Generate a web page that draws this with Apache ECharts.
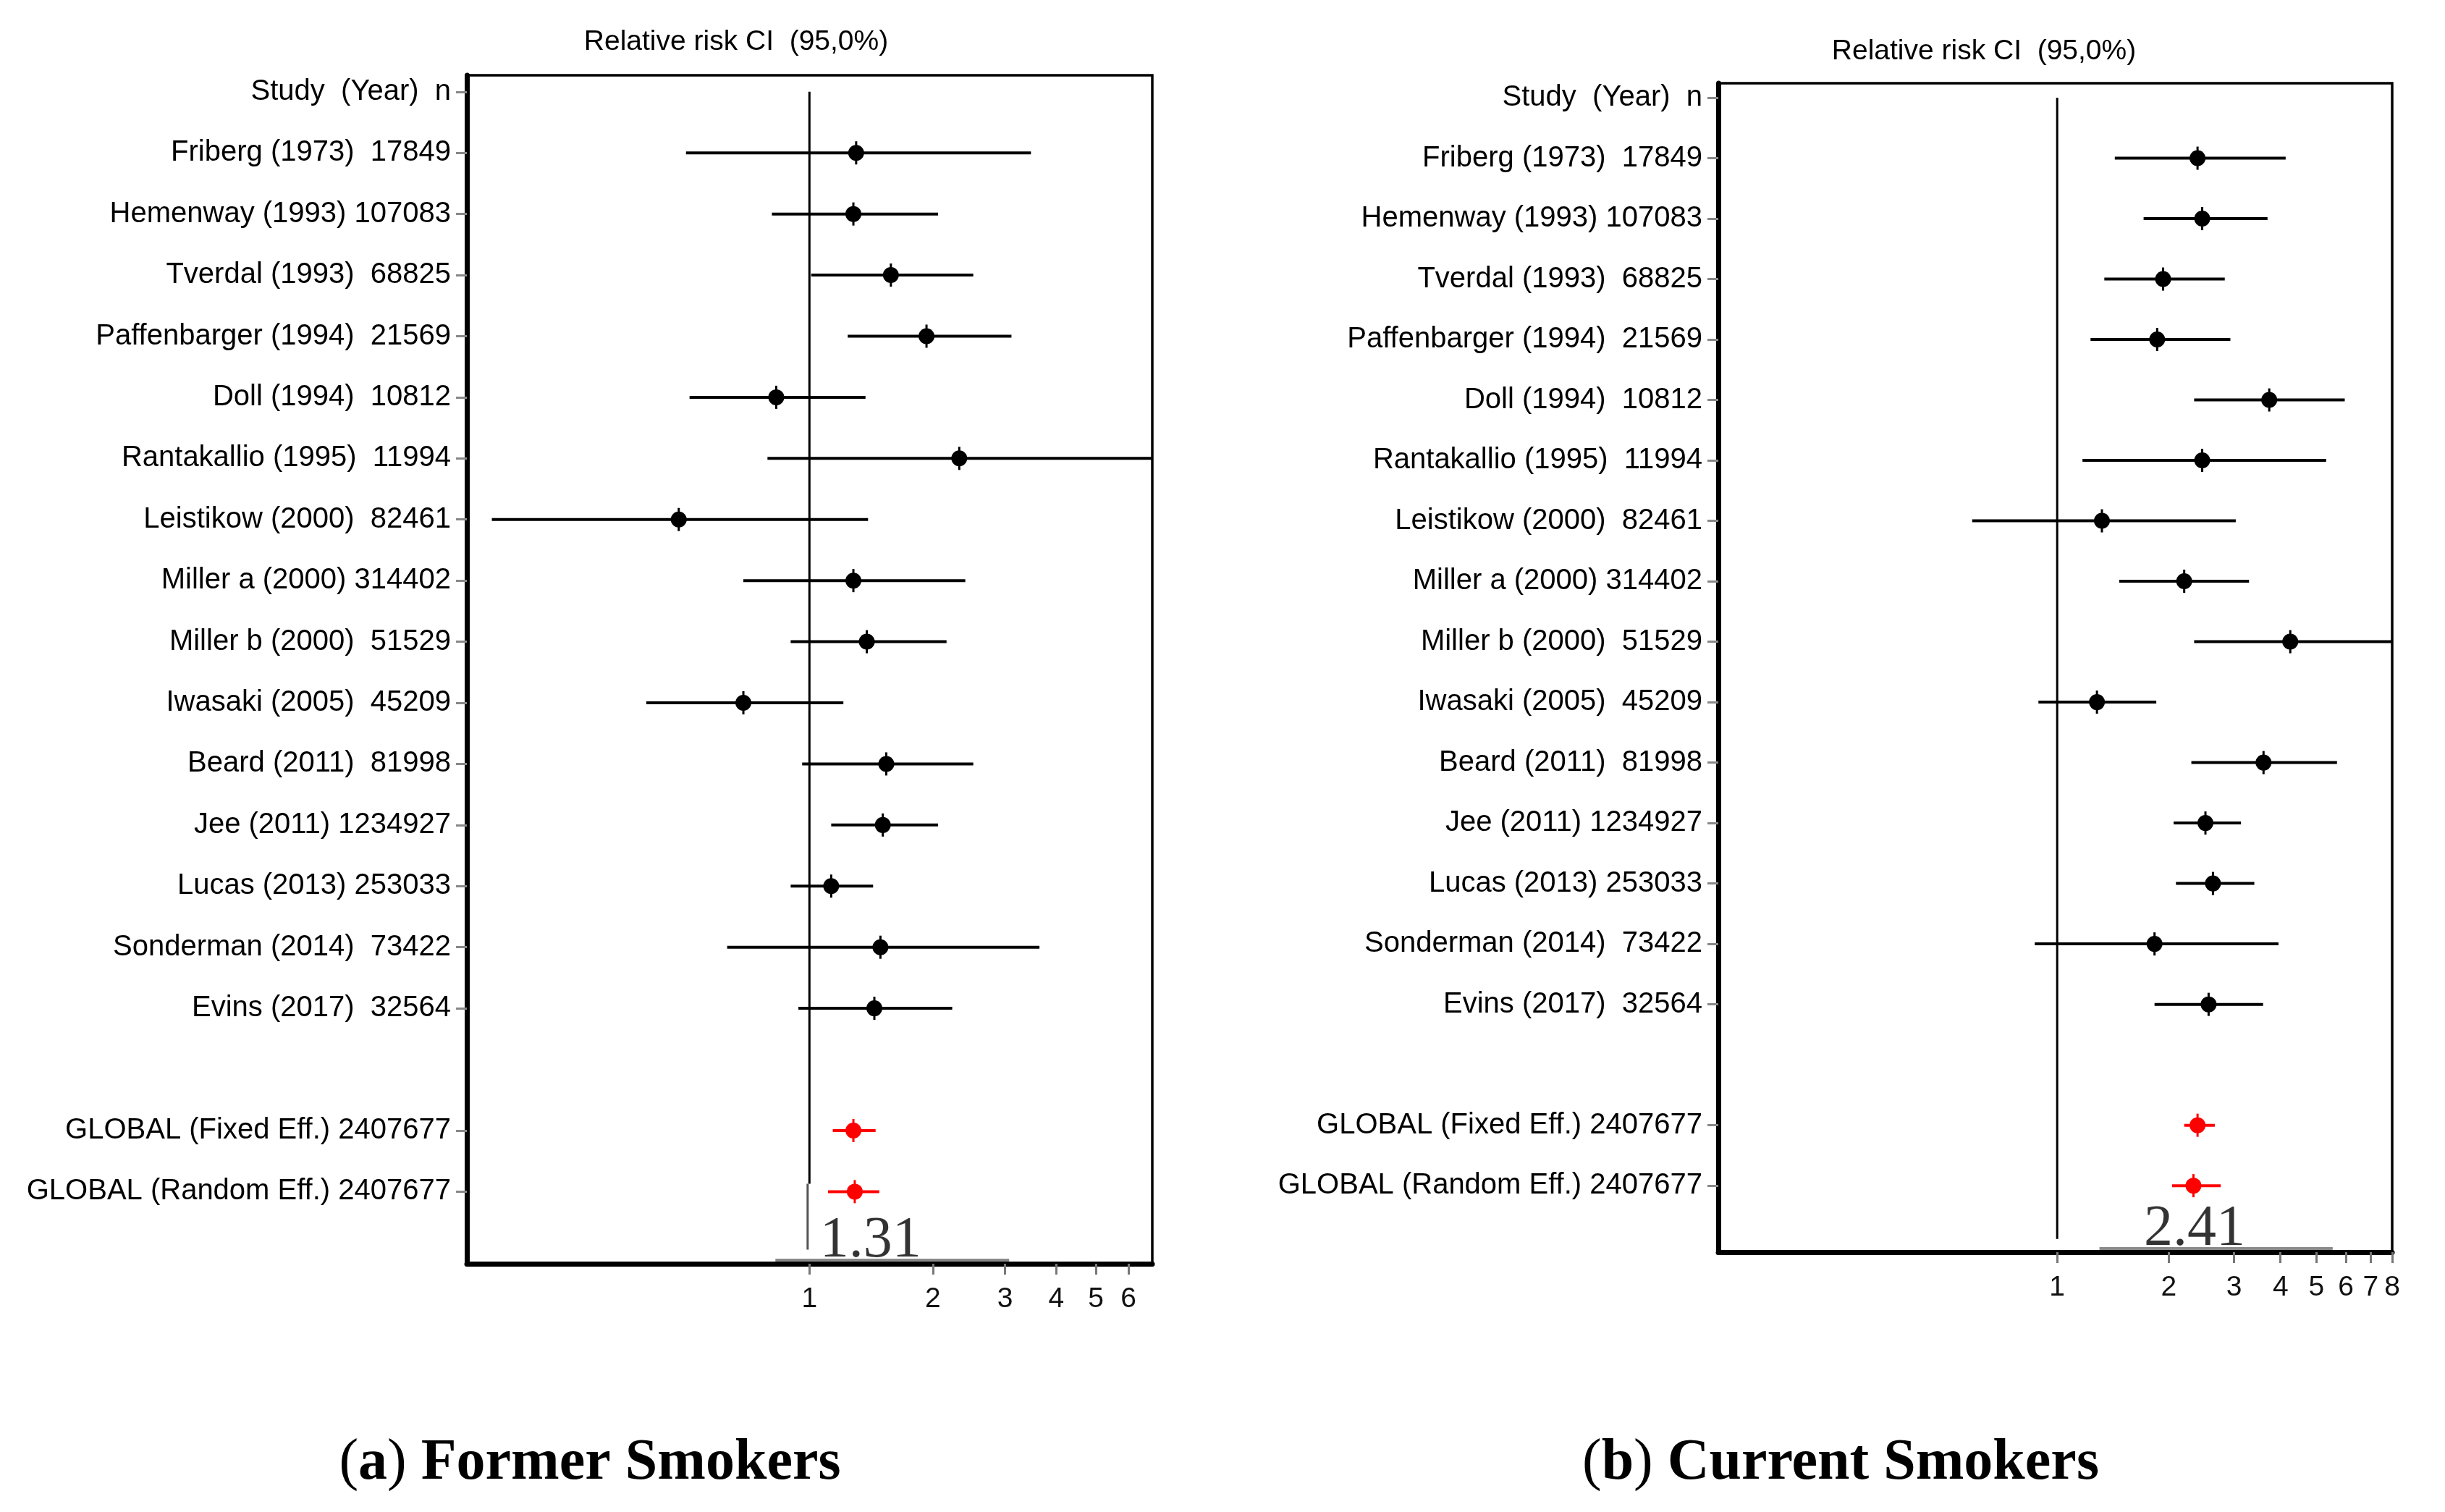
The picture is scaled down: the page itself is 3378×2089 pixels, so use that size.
<!DOCTYPE html>
<html lang="en">
<head>
  <meta charset="UTF-8">
  <title>Relative risk forest plots</title>
  <script src="https://cdn.jsdelivr.net/npm/echarts@6/dist/echarts.min.js"></script>
</head>
<body>
  <style>
    html, body, #chart {
      width: 100%;
      height: 100%;
      margin: 0;
      padding: 0;
      background: #fff;
    }
  </style>
  <div id="chart"></div>
  <script>
    // row labels, top to bottom (row 16 is the empty gap)
    const rowLabels = [
      'Study  (Year)  n',
      'Friberg (1973)  17849',
      'Hemenway (1993) 107083',
      'Tverdal (1993)  68825',
      'Paffenbarger (1994)  21569',
      'Doll (1994)  10812',
      'Rantakallio (1995)  11994',
      'Leistikow (2000)  82461',
      'Miller a (2000) 314402',
      'Miller b (2000)  51529',
      'Iwasaki (2005)  45209',
      'Beard (2011)  81998',
      'Jee (2011) 1234927',
      'Lucas (2013) 253033',
      'Sonderman (2014)  73422',
      'Evins (2017)  32564',
      '',
      'GLOBAL (Fixed Eff.) 2407677',
      'GLOBAL (Random Eff.) 2407677'
    ]
    const studyRows = [1, 2, 3, 4, 5, 6, 7, 8, 9, 10, 11, 12, 13, 14, 15]
    const globalRows = [17, 18]
    const tickRows = [0, 1, 2, 3, 4, 5, 6, 7, 8, 9, 10, 11, 12, 13, 14, 15, 17, 18]

    // (a) former smokers
    const formerRR = [1.30, 1.28, 1.58, 1.93, 0.83, 2.32, 0.48, 1.28, 1.38, 0.69, 1.54, 1.51, 1.13, 1.49, 1.44]
    const formerLo = [0.50, 0.81, 1.01, 1.24, 0.51, 0.79, 0.168, 0.69, 0.90, 0.40, 0.96, 1.13, 0.90, 0.63, 0.94]
    const formerHi = [3.47, 2.06, 2.51, 3.11, 1.37, 9.5, 1.39, 2.40, 2.16, 1.21, 2.51, 2.06, 1.43, 3.64, 2.23]
    const formerGlobalRR = [1.28, 1.29]
    const formerGlobalLo = [1.14, 1.11]
    const formerGlobalHi = [1.45, 1.48]
    const formerTicks = [1, 2, 3, 4, 5, 6]
    const formerPooled = '1.31'

    // (b) current smokers
    const currentRR = [2.39, 2.46, 1.93, 1.86, 3.73, 2.46, 1.32, 2.20, 4.25, 1.28, 3.60, 2.51, 2.63, 1.83, 2.56]
    const currentLo = [1.43, 1.71, 1.34, 1.23, 2.34, 1.17, 0.59, 1.47, 2.34, 0.89, 2.30, 2.06, 2.09, 0.87, 1.83]
    const currentHi = [4.13, 3.69, 2.83, 2.93, 5.96, 5.31, 3.03, 3.29, 10.5, 1.85, 5.68, 3.13, 3.40, 3.95, 3.59]
    const currentGlobalRR = [2.39, 2.33]
    const currentGlobalLo = [2.20, 2.04]
    const currentGlobalHi = [2.66, 2.76]
    const currentTicks = [1, 2, 3, 4, 5, 6, 7, 8]
    const currentPooled = '2.41'

    const FONT = 'Liberation Sans'

    function rows(rr, lo, hi, rowIdx, isGlobal) {
      return rr.map((v, i) => [v, rowIdx[i], lo[i], hi[i], isGlobal])
    }

    function renderForest(params, api) {
      const rr = api.value(0), row = api.value(1), lo = api.value(2), hi = api.value(3)
      const color = api.value(4) ? '#ff0000' : '#000'
      const cs = params.coordSys
      const p = api.coord([rr, row])
      const a = api.coord([lo, row])
      const b = api.coord([hi, row])
      const xl = Math.max(a[0], cs.x)
      const xr = Math.min(b[0], cs.x + cs.width)
      return {
        type: 'group',
        children: [
          { type: 'line', shape: { x1: xl, y1: p[1], x2: xr, y2: p[1] }, style: { stroke: color, lineWidth: 4 } },
          { type: 'line', shape: { x1: p[0], y1: p[1] - 16, x2: p[0], y2: p[1] + 16 }, style: { stroke: color, lineWidth: 3 } },
          { type: 'circle', shape: { cx: p[0], cy: p[1], r: 11 }, style: { fill: color } }
        ]
      }
    }

    function xAxisFor(gridIndex, min, max, ticks) {
      return {
        type: 'log',
        gridIndex,
        min,
        max,
        axisLine: { onZero: false, lineStyle: { color: '#000', width: 7 } },
        axisTick: { customValues: ticks, length: 15, lineStyle: { color: '#777', width: 3 } },
        axisLabel: {
          customValues: ticks,
          formatter: v => String(Math.round(v)),
          margin: 30,
          fontFamily: FONT,
          fontSize: 39,
          color: '#111'
        },
        splitLine: { show: false },
        minorTick: { show: false }
      }
    }

    function yAxisFor(gridIndex, min, max) {
      return {
        type: 'value',
        gridIndex,
        inverse: true,
        min,
        max,
        axisLine: { onZero: false, lineStyle: { color: '#000', width: 7 } },
        axisTick: { customValues: tickRows, length: 15, lineStyle: { color: '#888', width: 3 } },
        axisLabel: {
          customValues: tickRows,
          formatter: v => rowLabels[Math.round(v)] || '',
          margin: 22,
          fontFamily: FONT,
          fontSize: 40,
          color: '#000'
        },
        splitLine: { show: false }
      }
    }

    function lineSeries(axis, data, color, width) {
      return {
        type: 'line',
        xAxisIndex: axis,
        yAxisIndex: axis,
        data,
        symbol: 'none',
        silent: true,
        lineStyle: { color, width: width || 3 },
        z: 1
      }
    }

    function pooledLabel(axis, value, row, text, dx) {
      return {
        type: 'scatter',
        xAxisIndex: axis,
        yAxisIndex: axis,
        data: [[value, row]],
        symbolSize: 0,
        itemStyle: { color: '#000' },
        label: {
          show: true,
          position: 'top',
          formatter: text,
          offset: [dx, 14],
          fontFamily: 'Liberation Serif',
          fontSize: 80,
          color: '#000',
          textBorderWidth: 0
        },
        z: 4
      }
    }

    const caption = (letter, text) => ({
      text: `{n|(}{b|${letter}}{n|) }{b|${text}}`,
      textAlign: 'center',
      textVerticalAlign: 'middle',
      rich: {
        n: { fontFamily: 'Liberation Serif', fontSize: 80, color: '#000' },
        b: { fontFamily: 'Liberation Serif', fontSize: 80, fontWeight: 'bold', color: '#000' }
      }
    })

    const chart = echarts.init(document.getElementById('chart'))

    chart.setOption({
      animation: false,
      backgroundColor: '#fff',
      grid: [
        { left: 645, top: 104, width: 947, height: 1642, show: true, borderColor: '#000', borderWidth: 3.5 },
        { left: 2374, top: 115, width: 931, height: 1615, show: true, borderColor: '#000', borderWidth: 3.5 }
      ],
      xAxis: [
        xAxisFor(0, 0.146, 6.86, formerTicks),
        xAxisFor(1, 0.122, 8, currentTicks)
      ],
      yAxis: [yAxisFor(0, -0.27, 19.18), yAxisFor(1, -0.24, 19.1)],
      graphic: [
        { type: 'text', x: 1017, y: 58, style: { text: 'Relative risk CI  (95,0%)', font: '39px "Liberation Sans"', fill: '#000', textAlign: 'center', textVerticalAlign: 'middle' } },
        { type: 'text', x: 2741, y: 71, style: { text: 'Relative risk CI  (95,0%)', font: '39px "Liberation Sans"', fill: '#000', textAlign: 'center', textVerticalAlign: 'middle' } },
        { type: 'text', x: 815, y: 2022, style: caption('a', 'Former Smokers') },
        { type: 'text', x: 2543, y: 2022, style: caption('b', 'Current Smokers') }
      ],
      series: [
        // reference lines at RR = 1 and the grey strokes around the pooled values
        lineSeries(0, [[1, 0], [1, 17.87]], '#000'),
        lineSeries(0, [[0.99, 17.87], [0.99, 18.95]], '#555'),
        lineSeries(0, [[0.826, 19.12], [3.07, 19.12]], '#8a8a8a', 4),
        lineSeries(1, [[1, 0], [1, 18.88]], '#000'),
        lineSeries(1, [[1.30, 19.04], [5.53, 19.04]], '#8a8a8a', 4),
        {
          type: 'custom', xAxisIndex: 0, yAxisIndex: 0, renderItem: renderForest, z: 3,
          encode: { x: [0, 2, 3], y: 1 },
          data: rows(formerRR, formerLo, formerHi, studyRows, 0).concat(rows(formerGlobalRR, formerGlobalLo, formerGlobalHi, globalRows, 1))
        },
        {
          type: 'custom', xAxisIndex: 1, yAxisIndex: 1, renderItem: renderForest, z: 3,
          encode: { x: [0, 2, 3], y: 1 },
          data: rows(currentRR, currentLo, currentHi, studyRows, 0).concat(rows(currentGlobalRR, currentGlobalLo, currentGlobalHi, globalRows, 1))
        },
        pooledLabel(0, 1.31, 19.18, formerPooled, 18),
        pooledLabel(1, 2.41, 19.1, currentPooled, -6)
      ]
    })
  </script>
</body>
</html>
